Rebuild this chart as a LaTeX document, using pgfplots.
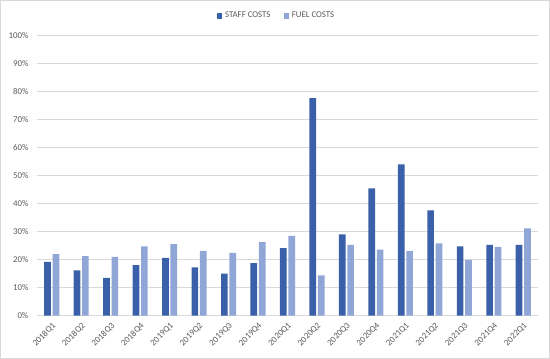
\documentclass[border=0pt]{standalone}
\usepackage{pgfplots}
\pgfplotsset{compat=1.18}
\usepackage{fontspec}
\setmainfont{Carlito}
\definecolor{staff}{HTML}{3A60A9}
\definecolor{fuel}{HTML}{8FA6D7}
\definecolor{gridc}{HTML}{D9D9D9}
\definecolor{txt}{HTML}{595959}
\begin{document}
\begin{tikzpicture}
\draw[gridc, line width=0.75pt] (0.375pt,0.375pt) rectangle (412.125pt,268.875pt);
\useasboundingbox (0,0) rectangle (412.5pt,269.25pt);
\begin{axis}[
  at={(27.75pt,32.5pt)}, anchor=south west,
  scale only axis, width=375.75pt, height=209.8pt,
  ybar=1.3pt, bar width=5pt,
  xmin=-0.5, xmax=16.5, ymin=0, ymax=100,
  xtick={0,...,16},
  xticklabels={2018Q1,2018Q2,2018Q3,2018Q4,2019Q1,2019Q2,2019Q3,2019Q4,2020Q1,2020Q2,2020Q3,2020Q4,2021Q1,2021Q2,2021Q3,2021Q4,2022Q1},
  ytick={0,10,...,100},
  yticklabels={0\%,10\%,20\%,30\%,40\%,50\%,60\%,70\%,80\%,90\%,100\%},
  axis line style={draw=none}, major tick length=0pt,
  ymajorgrids, major grid style={gridc, line width=0.75pt},
  tick label style={text=txt, font=\fontsize{6.6}{8}\selectfont},
  yticklabel style={xshift=-3pt},
  xticklabel shift=4pt,
  xticklabel style={rotate=45, anchor=north east, inner sep=0.5pt},
  legend style={at={(0.479,1.0715)}, anchor=center, draw=none, fill=none,
    font=\fontsize{6.6}{8}\selectfont, text=txt, legend columns=2,
    /tikz/every even column/.append style={column sep=8pt}},
  legend image code/.code={\fill[#1] (0pt,-2pt) rectangle (4pt,2pt);},
]
\addplot[fill=staff, draw=none] coordinates {
(0,19.2) (1,16.2) (2,13.5) (3,18.1) (4,20.7) (5,17.3) (6,15.0) (7,18.8)
(8,24.1) (9,77.8) (10,29.1) (11,45.5) (12,54.1) (13,37.6) (14,24.8) (15,25.3) (16,25.3)};
\addplot[fill=fuel, draw=none] coordinates {
(0,22.0) (1,21.3) (2,21.0) (3,24.8) (4,25.6) (5,23.2) (6,22.4) (7,26.3)
(8,28.5) (9,14.4) (10,25.3) (11,23.6) (12,23.2) (13,25.8) (14,19.9) (15,24.6) (16,31.2)};
\legend{STAFF COSTS, FUEL COSTS}
\end{axis}
\end{tikzpicture}
\end{document}
